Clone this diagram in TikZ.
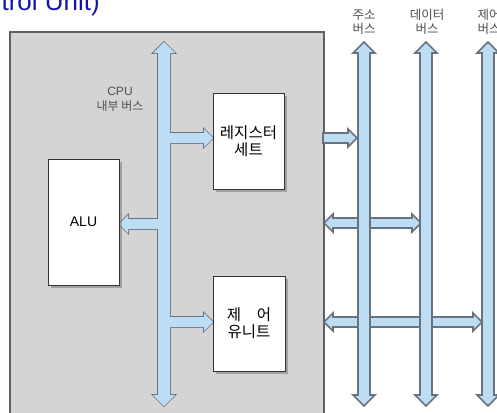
\documentclass[tikz,border=0pt]{standalone}
\usepackage{fontspec}
\setmainfont{Liberation Sans}
\newfontfamily\kr{Noto Sans CJK KR}
\usetikzlibrary{shadows}
\definecolor{busfill}{RGB}{189,221,245}
\definecolor{busline}{RGB}{105,115,128}
\definecolor{cpugray}{RGB}{212,212,212}
\definecolor{cpuline}{RGB}{95,95,95}
\definecolor{titleblue}{RGB}{20,20,170}
\definecolor{labelgray}{RGB}{80,80,80}
\tikzset{
  unitbox/.style={draw=black!80, line width=0.9pt, fill=white, inner sep=0pt, align=center,
    font=\kr\fontsize{15.5}{17}\selectfont,
    drop shadow={shadow xshift=2.5pt, shadow yshift=-2.5pt, fill=black!50, opacity=0.6}},
  busedge/.style={draw=busline, line width=1.6pt, fill=busfill, line join=miter},
  businner/.style={fill=busfill},
  buslabel/.style={align=center, text=labelgray, inner sep=0pt, font=\kr\fontsize{12.5}{13.5}\selectfont},
  cpubox/.style={draw=cpuline, line width=1.8pt, fill=cpugray}
}
% vertical double-headed bus: x, ytop, ybottom
\def\VBus#1#2#3{(#1,#2) -- (#1+11,#2+11) -- (#1+6,#2+11) -- (#1+6,#3-11) -- (#1+11,#3-11) -- (#1,#3) -- (#1-11,#3-11) -- (#1-6,#3-11) -- (#1-6,#2+11) -- (#1-11,#2+11) -- cycle}
% right arrow: xstart, xtip, y
\def\HArrowR#1#2#3{(#1,#3-5) -- (#2-9,#3-5) -- (#2-9,#3-9) -- (#2,#3) -- (#2-9,#3+9) -- (#2-9,#3+5) -- (#1,#3+5) -- cycle}
% left arrow: xstart, xtip, y
\def\HArrowL#1#2#3{(#1,#3-5) -- (#2+9,#3-5) -- (#2+9,#3-9) -- (#2,#3) -- (#2+9,#3+9) -- (#2+9,#3+5) -- (#1,#3+5) -- cycle}
% double horizontal arrow: xleft, xright, y
\def\HDouble#1#2#3{(#1,#3) -- (#1+9,#3-9) -- (#1+9,#3-5) -- (#2-9,#3-5) -- (#2-9,#3-9) -- (#2,#3) -- (#2-9,#3+9) -- (#2-9,#3+5) -- (#1+9,#3+5) -- (#1+9,#3+9) -- cycle}
\begin{document}
\begin{tikzpicture}[x=1pt,y=-1pt]
\useasboundingbox (0,0) rectangle (497,412);
\clip (0,0) rectangle (497,412);
\fill[white] (0,0) rectangle (497,412);

% title (cut off at the top-left, as in the reference)
\node[anchor=base east, inner sep=0pt, text=titleblue, font=\fontsize{26}{26}\selectfont] (title) at (100,11) {(Control Unit)};

% CPU box
\draw[cpubox] (10,32) rectangle (324,430);

% internal bus: outline pass, then fill pass to merge junctions
\draw[busedge] \VBus{164}{42}{406};
\draw[busedge] \HArrowR{164}{213}{138};
\draw[busedge] \HArrowL{164}{119}{224};
\draw[busedge] \HArrowR{164}{213}{322};
\fill[businner] \VBus{164}{42}{406};
\fill[businner] \HArrowR{164}{213}{138};
\fill[businner] \HArrowL{164}{119}{224};
\fill[businner] \HArrowR{164}{213}{322};

% units
\node[unitbox, minimum width=71pt, minimum height=96pt] (reg) at (248.5,141) {레지스터\\세트};
\node[unitbox, font=\fontsize{14}{17}\selectfont, minimum width=71pt, minimum height=126pt] (alu) at (83.5,222) {ALU};
\node[unitbox, minimum width=72pt, minimum height=95pt] (ctl) at (249,323.5) {제\hspace{1em}어\\유니트};

% internal bus label
\node[align=center, text=labelgray, inner sep=0pt, font=\fontsize{12}{15}\selectfont] (cpulbl) at (120,99.5) {CPU\\{\kr 내부 버스}};

% external connections
\draw[busedge] \HArrowR{323}{357}{138};
\draw[busedge] \HDouble{324}{421}{223};
\draw[busedge] \HDouble{324}{482}{322};

% external buses
\draw[busedge] \VBus{364}{42}{406};
\draw[busedge] \VBus{426}{42}{406};
\draw[busedge] \VBus{488}{42}{406};

% bus labels
\node[buslabel] (addrlbl) at (364,22) {주소\\버스};
\node[buslabel] (datalbl) at (427,22) {데이터\\버스};
\node[buslabel] (ctllbl) at (489,22) {제어\\버스};
\end{tikzpicture}
\end{document}
